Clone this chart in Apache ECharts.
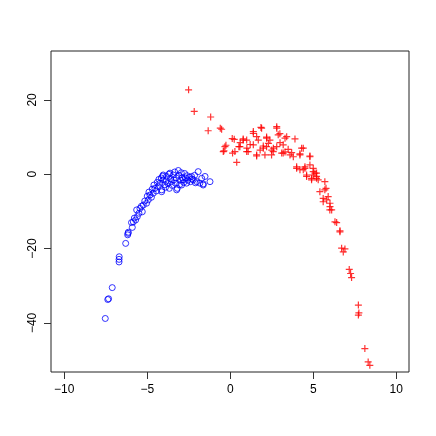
<!DOCTYPE html>
<html>
<head>
<meta charset="utf-8">
<script src="https://cdn.jsdelivr.net/npm/echarts@6/dist/echarts.min.js"></script>
<style>html,body{margin:0;padding:0;background:#fff}#c{width:436px;height:436px}</style>
</head>
<body>
<div id="c"></div>
<script>
const xTicks = [-10, -5, 0, 5, 10];
const yTicks = [-40, -20, 0, 20];

const blueX = [-7.53,-7.38,-7.33,-7.11,-6.70,-6.70,-6.69,-6.30,-6.16,-6.18,-6.14,-5.90,-5.84,-5.95,-5.70,-5.78,-5.60,-5.64,-5.50,-5.44,-5.30,-5.35,-5.24,-5.15,-5.04,-4.94,-5.00,-4.84,-4.90,-4.75,-4.64,-4.70,-4.54,-4.60,-4.45,-4.34,-4.40,-4.23,-4.30,-4.13,-4.13,-4.15,-4.04,-4.07,-4.04,-3.95,-3.90,-3.83,-3.85,-3.75,-3.70,-3.67,-3.63,-3.60,-3.55,-3.50,-3.43,-3.40,-3.35,-3.30,-3.25,-3.23,-3.19,-3.13,-3.10,-3.05,-3.00,-2.95,-2.93,-2.90,-2.83,-2.80,-2.75,-2.70,-2.63,-2.60,-2.55,-2.45,-2.40,-2.33,-2.30,-2.23,-2.15,-2.10,-2.02,-1.93,-1.83,-1.72,-1.63,-1.63,-1.52,-1.22];
const blueY = [-38.8,-33.7,-33.5,-30.5,-23.6,-22.9,-22.2,-18.6,-15.9,-16.3,-15.6,-14.3,-12.8,-13.0,-12.3,-11.8,-11.4,-9.6,-10.5,-9.2,-10.1,-8.6,-8.3,-7.2,-7.8,-6.9,-5.9,-5.6,-4.8,-6.2,-5.1,-4.0,-3.8,-2.9,-4.5,-3.3,-2.2,-2.4,-1.4,-4.2,-4.7,-1.0,-1.5,-0.5,-0.2,-2.8,-3.5,-0.6,-1.8,-2.5,0.0,-3.8,0.3,-1.2,-2.0,-3.0,-0.2,-1.5,0.6,-2.4,-1.0,-4.2,-3.8,1.0,-0.3,-2.8,-1.6,0.4,-2.9,-0.9,-1.5,-2.2,0.2,-1.0,-2.4,-0.4,-1.6,-0.8,-2.0,-0.6,-1.3,-1.5,-0.3,-2.3,-2.0,0.7,-2.4,-1.1,-2.6,-2.9,-0.6,-2.0];

const redX = [-2.51,-2.17,-1.18,-1.33,-0.60,-0.52,0.12,0.24,-0.26,-0.38,-0.42,-0.32,0.14,0.28,0.39,0.52,0.58,0.78,0.78,0.99,0.99,1.08,1.39,1.39,1.39,1.59,1.85,1.89,1.69,1.59,1.59,1.99,1.99,2.19,2.19,2.19,2.09,2.39,2.49,2.59,2.80,2.80,2.99,2.89,2.80,3.10,3.19,3.19,3.30,3.40,3.90,3.49,3.60,3.80,4.20,4.20,4.30,4.40,4.80,4.80,4.80,4.00,4.00,4.20,4.40,4.50,4.50,4.60,4.60,5.00,5.00,5.00,5.10,5.20,5.20,5.20,4.90,4.90,5.30,5.70,5.77,5.70,5.40,5.60,5.60,5.81,6.01,5.90,6.01,6.00,6.11,6.31,6.41,6.61,6.61,6.71,6.91,6.81,7.17,7.25,7.31,7.72,7.75,7.72,8.11,8.31,8.41,0.60,1.20,1.80,2.30,2.60,3.00,1.00,2.50,3.30,3.70];
const redY = [22.7,16.9,15.4,11.7,12.4,12.1,9.6,9.4,7.8,6.3,6.1,7.4,5.7,6.1,3.2,7.4,7.4,9.5,9.2,9.2,6.1,6.1,11.5,11.0,7.9,10.1,12.6,12.4,9.2,4.9,5.2,7.6,7.0,10.0,9.7,7.4,5.2,9.2,5.2,6.1,12.8,12.4,10.9,10.6,7.4,5.7,5.7,7.9,9.7,10.1,9.5,6.7,5.2,4.7,5.2,5.5,7.0,7.0,4.9,4.7,2.5,2.0,1.6,1.2,1.2,1.6,2.0,-0.2,-0.6,0.7,1.6,-0.2,0.3,-0.6,0.3,-1.1,-1.1,-1.5,-1.5,-2.0,-3.8,-4.2,-4.7,-6.5,-7.4,-6.9,-7.8,-6.0,-8.7,-9.6,-9.6,-12.8,-13.0,-15.5,-15.2,-19.9,-20.1,-20.9,-25.6,-26.7,-27.8,-35.2,-37.3,-37.9,-46.9,-50.5,-51.4,8.5,8.0,6.5,8.3,7.0,8.5,7.0,6.5,6.0,5.8];

const pairs = (xs, ys) => xs.map((x, i) => [x, ys[i]]);
const fmt = v => String(v).replace('-', '\u2212');
const font = 'Liberation Sans, Arial, Helvetica, sans-serif';

const chart = echarts.init(document.getElementById('c'), null, {renderer: 'canvas'});
chart.setOption({
  animation: false,
  backgroundColor: '#fff',
  grid: {left: 51, right: 27, top: 51, bottom: 64, show: true, borderColor: '#222', borderWidth: 1, backgroundColor: 'transparent'},
  xAxis: {
    type: 'value', min: -10.8, max: 10.77,
    axisLine: {show: false, onZero: false},
    splitLine: {show: false},
    axisTick: {show: true, length: 7, customValues: xTicks, lineStyle: {color: '#333'}},
    axisLabel: {customValues: xTicks, formatter: fmt, margin: 12, fontSize: 12, color: '#000', fontFamily: font}
  },
  yAxis: {
    type: 'value', min: -53.2, max: 33.15,
    axisLine: {show: false, onZero: false},
    splitLine: {show: false},
    axisTick: {show: true, length: 7, customValues: yTicks, lineStyle: {color: '#333'}},
    axisLabel: {customValues: yTicks, formatter: fmt, rotate: 90, margin: 12, fontSize: 12, color: '#000', fontFamily: font}
  },
  series: [
    {
      type: 'scatter', data: pairs(blueX, blueY), symbol: 'circle', symbolSize: 6,
      itemStyle: {color: 'rgba(0,0,0,0)', borderColor: '#0000ff', borderWidth: 1}
    },
    {
      type: 'scatter', data: pairs(redX, redY), symbol: 'path://M0,5L10,5M5,0L5,10', symbolSize: 7,
      itemStyle: {color: 'rgba(0,0,0,0)', borderColor: '#ff0000', borderWidth: 1.2}
    }
  ]
});
</script>
</body>
</html>
